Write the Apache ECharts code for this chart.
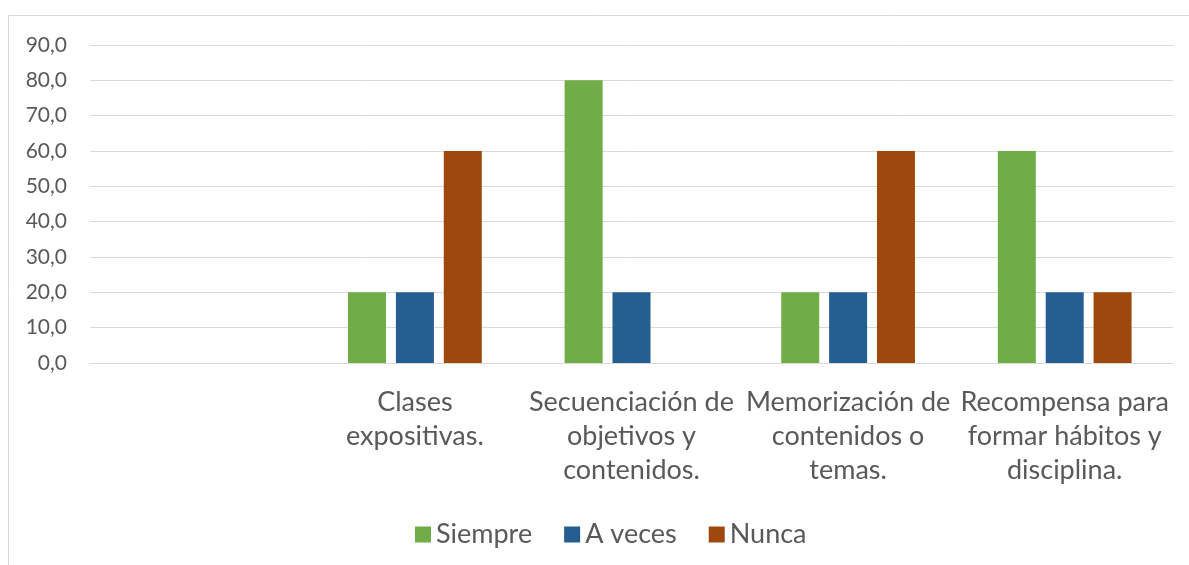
<!DOCTYPE html>
<html>
<head>
<meta charset="utf-8">
<script src="https://cdn.jsdelivr.net/npm/echarts@6/dist/echarts.min.js"></script>
<style>
  html, body { margin: 0; padding: 0; background: #fff; }
  #chart { width: 1189px; height: 565px; }
</style>
</head>
<body>
<div id="chart"></div>
<script>
const categories = [
  '',
  'Clases\nexpositivas.',
  'Secuenciación de\nobjetivos y\ncontenidos.',
  'Memorización de\ncontenidos o\ntemas.',
  'Recompensa para\nformar hábitos y\ndisciplina.'
];
const siempre = [null, 20, 80, 20, 60];
const aVeces = [null, 20, 20, 20, 20];
const nunca = [null, 60, 0, 60, 20];
const yTicks = { min: 0, max: 90, interval: 10 };

const font = 'Lato, "Open Sans", sans-serif';
const chart = echarts.init(document.getElementById('chart'));

function bar(name, data, color) {
  return {
    name: name,
    type: 'bar',
    data: data,
    barWidth: 38,
    barGap: '26%',
    itemStyle: { color: color },
    silent: true
  };
}

chart.setOption({
  animation: false,
  textStyle: { fontFamily: font },
  graphic: [{
    type: 'rect',
    shape: { x: 8.5, y: 15.5, width: 1300, height: 700 },
    style: { fill: 'none', stroke: '#d9d9d9', lineWidth: 1 }
  }],
  grid: { left: 90, right: 16, top: 45, bottom: 202 },
  legend: {
    left: 410,
    top: 516,
    itemWidth: 16,
    itemHeight: 16,
    itemGap: 32,
    icon: 'rect',
    textStyle: { fontSize: 27, color: '#595959', fontFamily: font },
    data: ['Siempre', 'A veces', 'Nunca']
  },
  xAxis: {
    type: 'category',
    data: categories,
    axisLine: { lineStyle: { color: '#d9d9d9', width: 1 } },
    axisTick: { show: false },
    axisLabel: {
      interval: 0,
      color: '#595959',
      fontSize: 27,
      lineHeight: 34,
      margin: 22,
      fontFamily: font
    }
  },
  yAxis: {
    type: 'value',
    min: yTicks.min,
    max: yTicks.max,
    interval: yTicks.interval,
    axisLine: { show: false },
    axisTick: { show: false },
    splitLine: { lineStyle: { color: '#d9d9d9', width: 1 } },
    axisLabel: {
      color: '#595959',
      fontSize: 21,
      margin: 23,
      fontFamily: font,
      formatter: v => v.toFixed(1).replace('.', ',')
    }
  },
  series: [
    bar('Siempre', siempre, '#70ad47'),
    bar('A veces', aVeces, '#255e91'),
    bar('Nunca', nunca, '#9e480e')
  ]
});
</script>
</body>
</html>
